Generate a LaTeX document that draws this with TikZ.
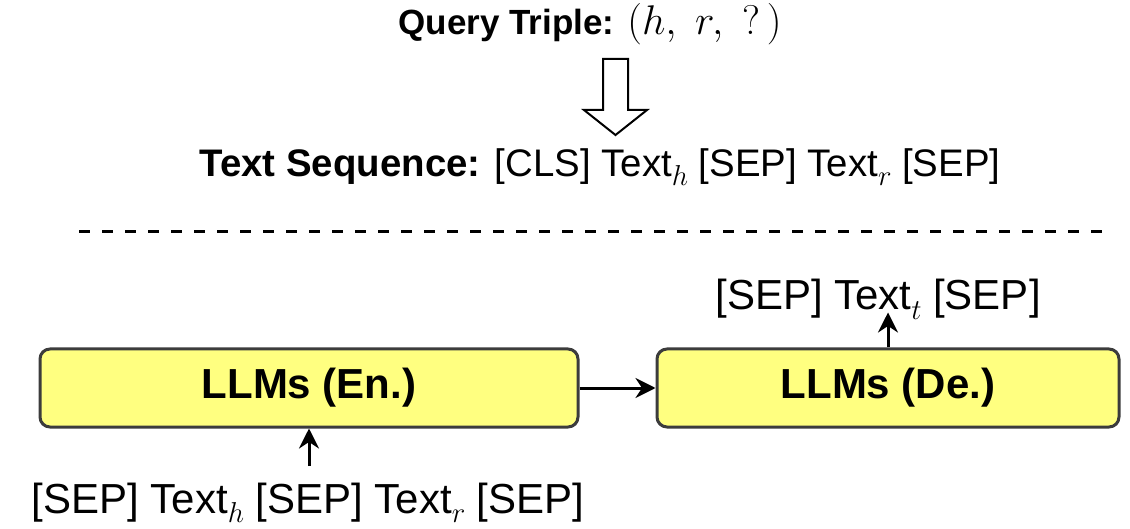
\documentclass[tikz,border=0pt]{standalone}
\usepackage{amssymb}
\usepackage{fontspec}
\setmainfont{Liberation Sans}
\usetikzlibrary{arrows.meta}

\definecolor{llmyellow}{HTML}{FFFF80}
\definecolor{llmborder}{HTML}{3C3C3C}
\newcommand{\tsub}[1]{\raisebox{-0.22em}{\fontsize{15}{15}\selectfont$#1$}}

\tikzset{
	llmbox/.style={draw=llmborder, line width=1.5pt, fill=llmyellow, rounded corners=5pt, minimum width=269pt, minimum height=39pt, inner sep=0pt, font=\fontsize{21}{24}\selectfont\bfseries},
	seqtext/.style={inner sep=0pt, anchor=base, font=\fontsize{21}{24}\selectfont},
	flow/.style={-{Stealth[length=10pt,width=10pt]}, line width=1.5pt}
}

\begin{document}
\begin{tikzpicture}[x=0.5pt,y=-0.5pt]
			\useasboundingbox (0,0) rectangle (1130,529);
			% query and its text form
			\node[seqtext, font=\fontsize{17.5}{20}\selectfont](query) at (590,35){\textbf{Query Triple:} \fontsize{20.5}{22}\selectfont$(h,\;r,\;?\,)$};
			\draw[line width=1pt, fill=white](603,59) -- (628,59) -- (628,110) -- (647,110) -- (615.5,135) -- (584,110) -- (603,110) -- cycle;
			\node[seqtext, font=\fontsize{19.2}{22}\selectfont](seq) at (600,177){\textbf{Text Sequence:} [CLS] Text\tsub{h} [SEP] Text\tsub{r} [SEP]};
			\draw[line width=1.5pt, dash pattern=on 5.5pt off 6pt](79,232) -- (1108,232);
			% encoder and decoder
			\node[llmbox](enc) at (309,388){LLMs (En.)};
			\node[llmbox, minimum width=231pt](dec) at (888,388){LLMs (De.)};
			\node[seqtext](encin) at (308,513){[SEP] Text\tsub{h} [SEP] Text\tsub{r} [SEP]};
			\node[seqtext](decout) at (878,310){[SEP] Text\tsub{t} [SEP]};
			\draw[flow](enc) -- (dec);
			\draw[flow](encin.north -| enc) ++(0,-16) -- (enc.south);
			\draw[flow](dec.north) -- ++(0,-35);
		\end{tikzpicture}
\end{document}
